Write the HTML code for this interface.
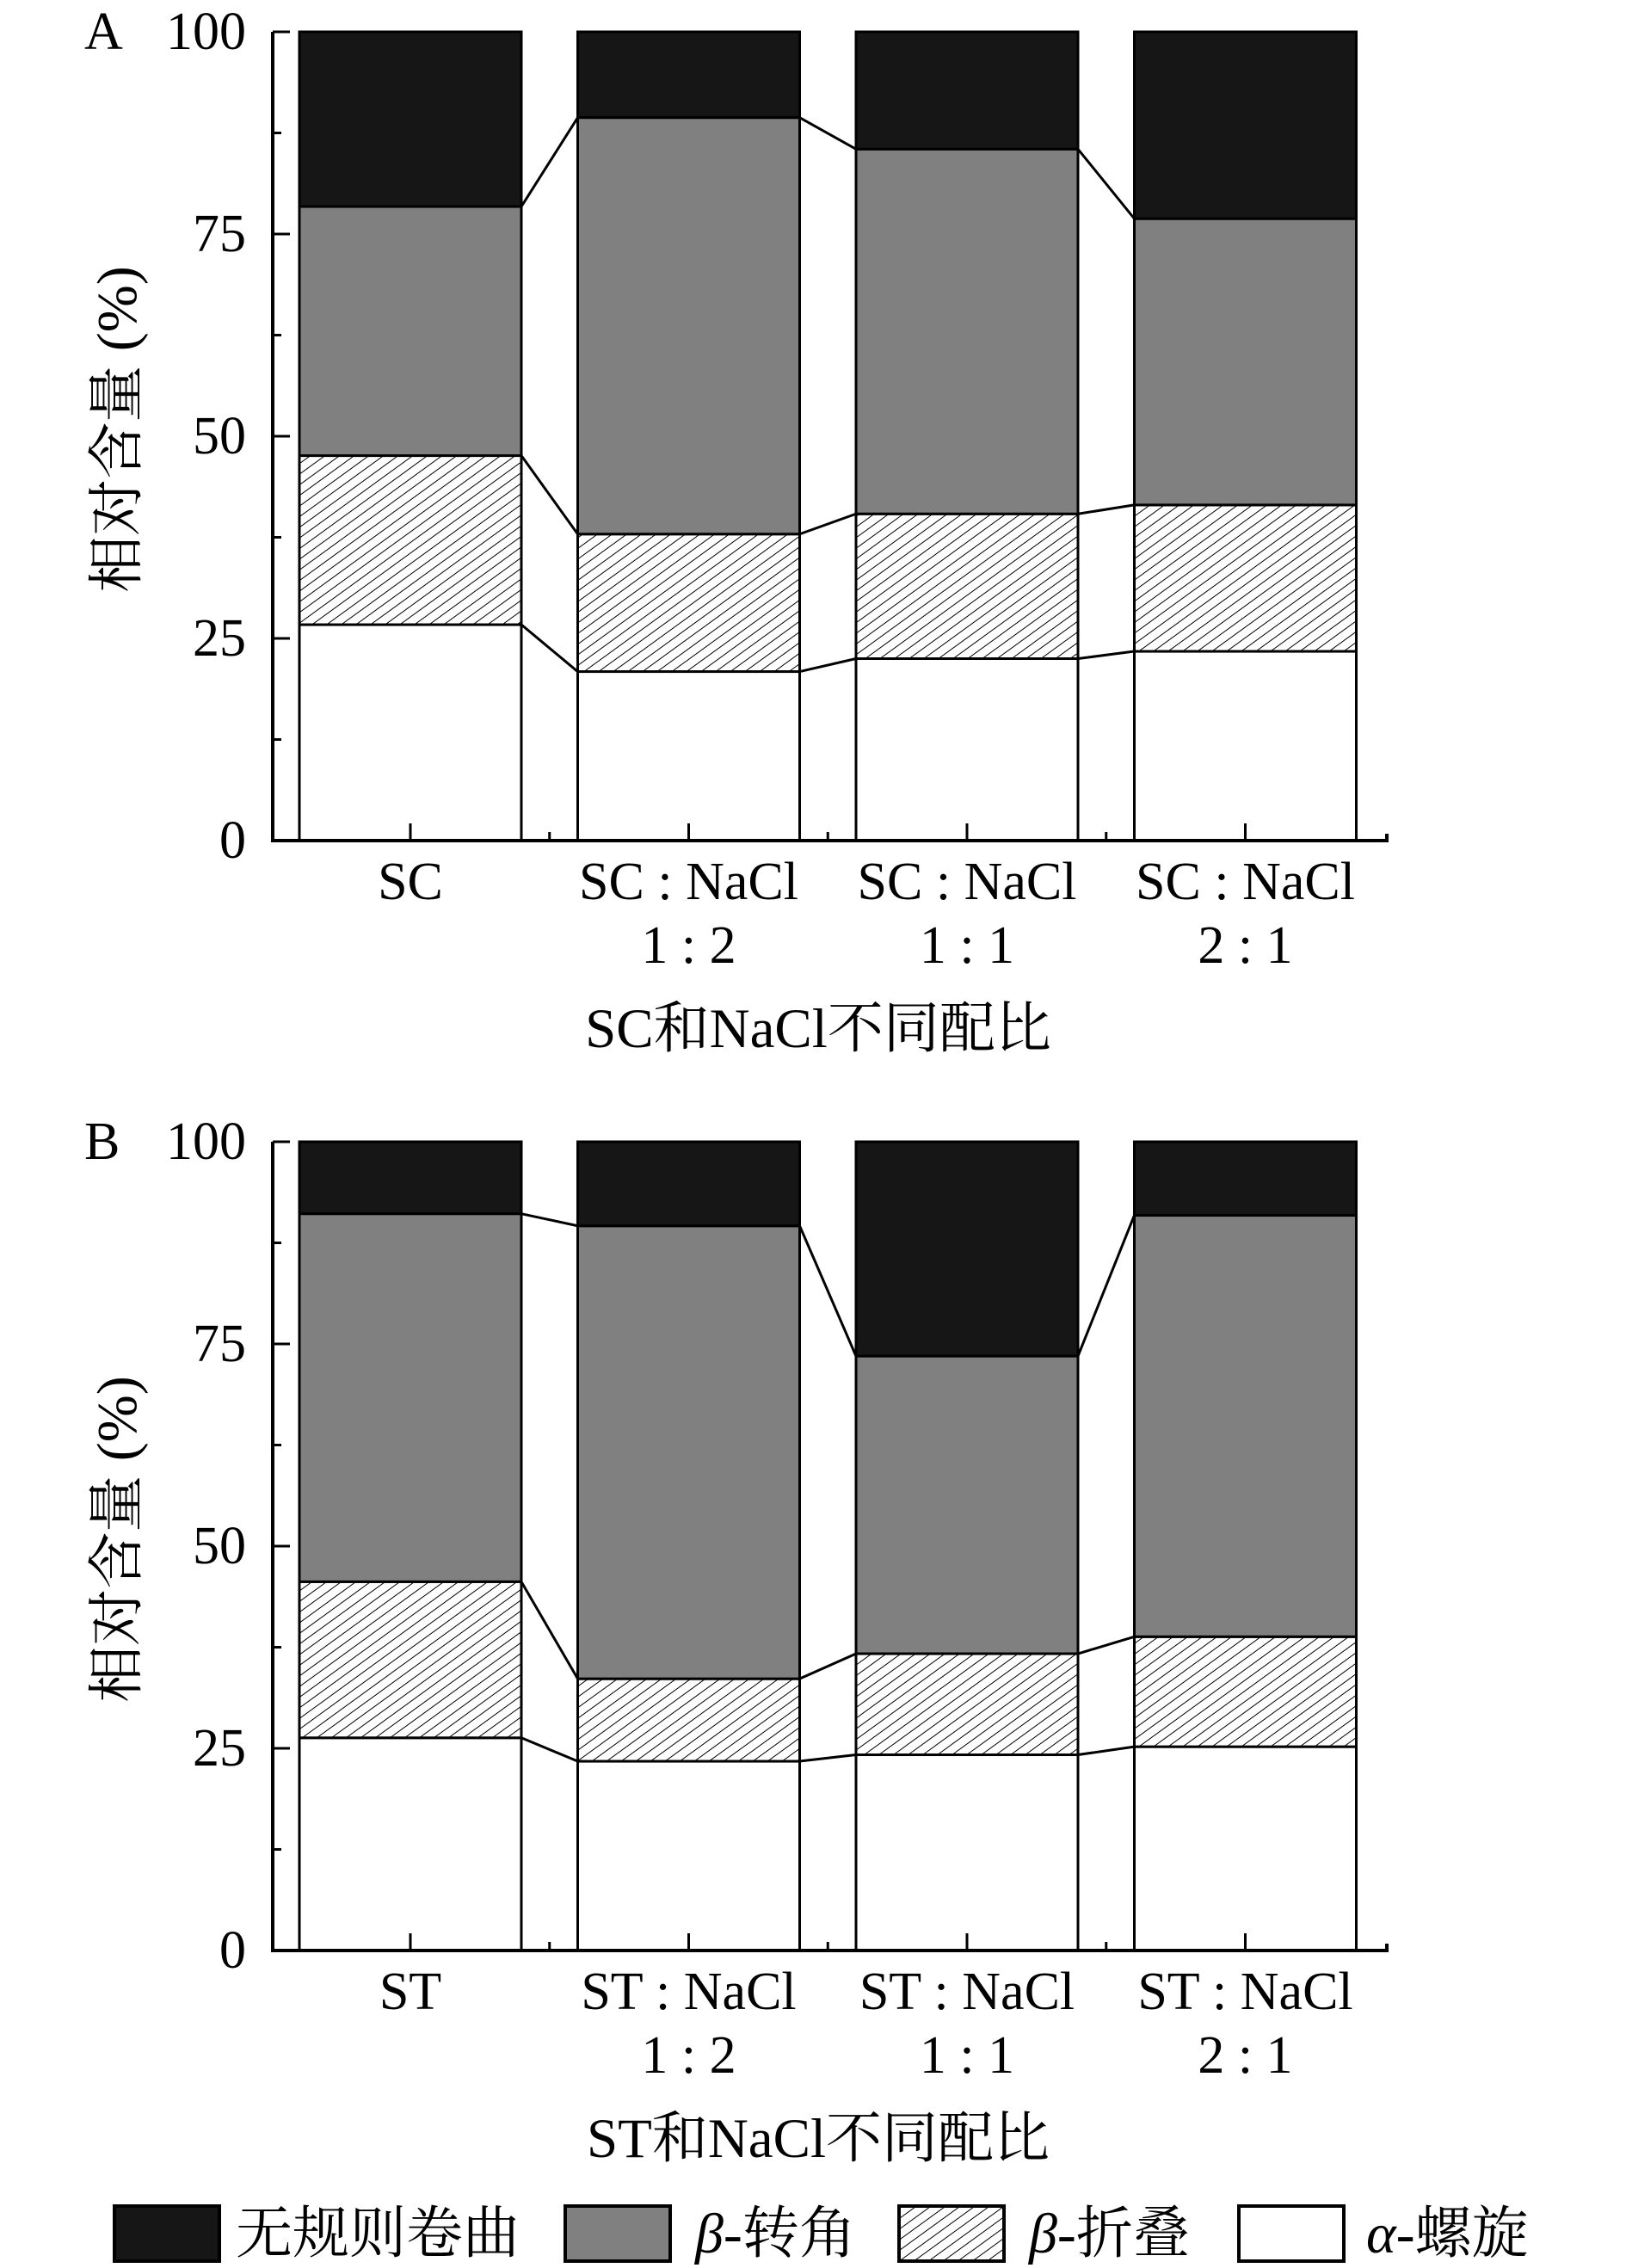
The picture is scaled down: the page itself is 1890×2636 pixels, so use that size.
<!DOCTYPE html>
<html><head><meta charset="utf-8"><style>
html,body{margin:0;padding:0;background:#fff;}
svg{display:block;}
text{font-family:"Liberation Serif","Noto Serif CJK SC","Noto Sans CJK SC",serif;fill:#000;}
</style></head><body>
<svg id="fig" width="1890" height="2636" viewBox="0 0 1890 2636">
<defs>
<pattern id="hatch" patternUnits="userSpaceOnUse" width="10" height="10" patternTransform="rotate(-36)">
<rect width="10" height="10" fill="#fff"/>
<line x1="0" y1="0" x2="10" y2="0" stroke="#000" stroke-width="2"/>
</pattern>
</defs>
</svg>
<script>
const categoriesA=[["SC",""],["SC : NaCl","1 : 2"],["SC : NaCl","1 : 1"],["SC : NaCl","2 : 1"]];
const categoriesB=[["ST",""],["ST : NaCl","1 : 2"],["ST : NaCl","1 : 1"],["ST : NaCl","2 : 1"]];
// cumulative boundaries: alpha-helix top, beta-sheet top, beta-turn top (random coil to 100)
const alphaA=[26.7,20.9,22.5,23.4];
const sheetA=[47.6,37.9,40.4,41.5];
const turnA=[78.4,89.4,85.5,76.9];
const alphaB=[26.3,23.4,24.2,25.2];
const sheetB=[45.6,33.6,36.7,38.8];
const turnB=[91.1,89.6,73.5,90.9];
const yTicks=[0,25,50,75,100];
const seriesNames=["无规则卷曲","β-转角","β-折叠","α-螺旋"];

const NS="http://www.w3.org/2000/svg";
const svg=document.getElementById('fig');
function el(tag,attrs,parent){const e=document.createElementNS(NS,tag);for(const k in attrs)e.setAttribute(k,attrs[k]);(parent||svg).appendChild(e);return e;}

function panel(letter,top,cats,alpha,sheet,turn,xTitle){
  const bottom=top+940, left=317, right=1612;
  const y=v=>bottom-(v/100)*(bottom-top);
  const barX=i=>348+i*323.5, bw=258;
  const g=el('g',{});
  
  
  for(let i=0;i<cats.length;i++){
    const x=barX(i);
    const segs=[[0,alpha[i],'#fff','alpha-helix'],[alpha[i],sheet[i],'url(#hatch)','beta-sheet'],[sheet[i],turn[i],'#808080','beta-turn'],[turn[i],100,'#161616','random-coil']];
    for(const s of segs){
      const r=el('rect',{x:x,y:y(s[1]),width:bw,height:y(s[0])-y(s[1]),fill:s[2],stroke:'#000','stroke-width':3},g);
      
      
    }
    if(i<cats.length-1){
      for(const arr of [alpha,sheet,turn]){
        const l=el('line',{x1:x+bw,y1:y(arr[i]),x2:barX(i+1),y2:y(arr[i+1]),stroke:'#000','stroke-width':3},g);
        
        
      }
      const t=el('line',{x1:(x+bw+barX(i+1))/2,y1:bottom,x2:(x+bw+barX(i+1))/2,y2:bottom-10,stroke:'#000','stroke-width':3},g);
      
      
    }
    const ct=el('line',{x1:x+bw/2,y1:bottom,x2:x+bw/2,y2:bottom-20,stroke:'#000','stroke-width':3},g);
    
    
    const t1=el('text',{x:x+bw/2,y:bottom+68,'font-size':62,'text-anchor':'middle'},g);
    t1.textContent=cats[i][0];
    
    
    if(cats[i][1]){
      const t2=el('text',{x:x+bw/2,y:bottom+142,'font-size':62,'text-anchor':'middle'},g);
      t2.textContent=cats[i][1];
      
      
    }
  }
  const ax=el('path',{d:`M${left} ${top} V${bottom} H${right} V${bottom-8}`,fill:'none',stroke:'#000','stroke-width':4},g);
  
  
  for(let v=0;v<=100;v+=12.5){
    const major=(v%25===0);
    const tk=el('line',{x1:left,y1:y(v),x2:left+(major?20:10),y2:y(v),stroke:'#000','stroke-width':3},g);
    
    
  }
  for(const v of yTicks){
    const t=el('text',{x:286,y:y(v)+20,'font-size':62,'text-anchor':'end'},g);
    t.textContent=v;
    
    
  }
  const L=el('text',{x:98,y:top+20,'font-size':62},g);
  L.textContent=letter;
  
  
  const yt=el('text',{x:0,y:0,'font-size':66,'text-anchor':'middle',transform:`translate(158 ${(top+bottom)/2-8}) rotate(-90)`},g);
  yt.textContent='相对含量 (%)';
  
  
  const xt=el('text',{x:951,y:bottom+240,'font-size':65,'text-anchor':'middle'},g);
  xt.textContent=xTitle;
  
  
}
panel('A',37,categoriesA,alphaA,sheetA,turnA,'SC和NaCl不同配比');
panel('B',1327,categoriesB,alphaB,sheetB,turnB,'ST和NaCl不同配比');

const lg=el('g',{});


const boxX=[133,657,1045,1440], txtX=[274,808,1196,1588], fills=['#161616','#808080','url(#hatch)','#fff'];
for(let i=0;i<4;i++){
  const r=el('rect',{x:boxX[i],y:2564,width:122,height:64,fill:fills[i],stroke:'#000','stroke-width':4},lg);
  
  
  const t=el('text',{x:txtX[i],y:2618,'font-size':66},lg);
  const nm=seriesNames[i];
  if(nm[0]==='β'||nm[0]==='α'){
    const s1=el('tspan',{'font-style':'italic'},t);s1.textContent=nm[0];
    const s2=el('tspan',{},t);s2.textContent=nm.slice(1);
  } else t.textContent=nm;
  
  
}
</script>
</body></html>
